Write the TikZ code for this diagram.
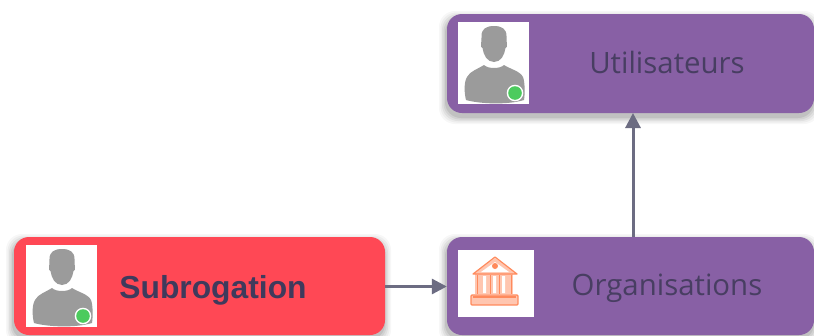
\documentclass[tikz,border=0pt]{standalone}
\usepackage{fontspec}
\setmainfont{Open Sans}
\newfontfamily\arialfont{Liberation Sans}
\usetikzlibrary{arrows.meta}
\definecolor{boxpurple}{HTML}{8860A5}
\definecolor{boxred}{HTML}{FF4855}
\definecolor{labelink}{HTML}{483E62}
\definecolor{boldink}{HTML}{3F3A5C}
\definecolor{linkgray}{HTML}{6C6C82}
\definecolor{persongray}{HTML}{9B9B9B}
\definecolor{badgegreen}{HTML}{4CCB5E}
\definecolor{bankline}{HTML}{FF8A5C}
\definecolor{bankfill}{HTML}{FFC6B0}
\newcommand{\softshade}[4]{%
  \foreach \g/\o in {7/.03,5.5/.04,4/.05,2.5/.06,1/.08}{
    \fill[black,opacity=\o,rounded corners=16pt] (#1-\g-1,#2-\g+4) rectangle (#3+\g-1,#4+\g+4);
  }}
\tikzset{
  card/.style={rectangle,rounded corners=15pt,inner sep=0pt},
  iconbox/.style={rectangle,fill=white,inner sep=0pt},
  caption/.style={font=\fontsize{29.4}{33}\selectfont,text=labelink,inner sep=0pt},
  boldcaption/.style={font=\arialfont\bfseries\fontsize{31.8}{36}\selectfont,text=boldink,inner sep=0pt},
  link/.style={draw=linkgray,line width=3pt,-{Triangle[length=15pt,width=15pt]}},
  person/.pic={
    \fill[persongray] (36,4) .. controls (28,4) and (23.5,7) .. (23.5,14)
      .. controls (23.5,18) and (23.5,20) .. (23,22)
      .. controls (22.5,24) and (23.5,26) .. (24.5,26)
      .. controls (25.5,33) and (29,40) .. (36,40)
      .. controls (43,40) and (46.5,33) .. (47.5,26)
      .. controls (48.5,26) and (49.5,24) .. (49,22)
      .. controls (48.5,20) and (48.5,18) .. (48.5,14)
      .. controls (48.5,7) and (44,4) .. (36,4) -- cycle;
    \fill[persongray] (26,43) .. controls (30,47) and (42,47) .. (46,43)
      .. controls (52,47) and (62,49) .. (65,55)
      .. controls (67,60) and (67,72) .. (66,78)
      .. controls (50,83) and (22,82) .. (8,78)
      .. controls (6,70) and (6,60) .. (9,55)
      .. controls (12,49) and (20,47) .. (26,43) -- cycle;
    \fill[white] (57,71) circle (8.3pt);
    \fill[badgegreen] (57,71) circle (6.8pt);
  },
  bank/.pic={
    \fill[bankfill] (17,24) rectangle (55,44);
    \fill[white] (25,26) rectangle (28,43) (35,26) rectangle (38,43) (44,26) rectangle (47,43);
    \fill[bankfill] (37,8) -- (59,24) -- (15,24) -- cycle;
    \fill[white] (37,12) -- (51,22) -- (23,22) -- cycle;
    \fill[bankline] (37,16) circle (3pt);
    \draw[bankline,line width=1.2pt,line join=round] (37,7) -- (59,24) -- (15,24) -- cycle;
    \draw[bankline,line width=.9pt] (19,25) -- (19,44) (32,25) -- (32,44) (41,25) -- (41,44) (53,25) -- (53,44);
    \fill[bankfill] (13,45) rectangle (60,55);
    \draw[bankline,line width=1.2pt,rounded corners=1pt] (13,45) rectangle (60,55);
    \draw[bankline,line width=1.2pt] (15,47) -- (58,47);
  },
}
\begin{document}
\begin{tikzpicture}[x=1pt,y=-1pt]
\useasboundingbox (0,0) rectangle (814,335);
\fill[white] (0,0) rectangle (814,335);
\softshade{447}{14}{814}{113}
\softshade{447}{237}{814}{335}
\softshade{14}{237}{385}{335}
\node[card,fill=boxpurple,minimum width=367pt,minimum height=99pt] (users) at (630.5,63.5) {};
\node[card,fill=boxpurple,minimum width=367pt,minimum height=98pt] (orgs) at (630.5,286) {};
\node[card,fill=boxred,minimum width=371pt,minimum height=98pt] (subro) at (199.5,286) {};
\node[iconbox,minimum width=71pt,minimum height=82pt] (usersicon) at (493.5,63) {};
\node[iconbox,minimum width=76pt,minimum height=67pt] (orgsicon) at (496,283.5) {};
\node[iconbox,minimum width=71pt,minimum height=82pt] (subroicon) at (61.5,286) {};
\pic at (458,22) {person};
\pic at (26,245) {person};
\pic at (458,250) {bank};
\node[caption] (userslabel) at (667,62.5) {Utilisateurs};
\node[caption] (orgslabel) at (667,288.5) {Organisations};
\node[boldcaption] (subrolabel) at (213,290) {Subrogation};
\coordinate (orgtop) at (633,237);
\coordinate (userbottom) at (633,113);
\draw[link] (subro.east |- 0,286.5) -- (orgs.west |- 0,286.5);
\draw[link] (orgtop) -- (userbottom);
\end{tikzpicture}
\end{document}
